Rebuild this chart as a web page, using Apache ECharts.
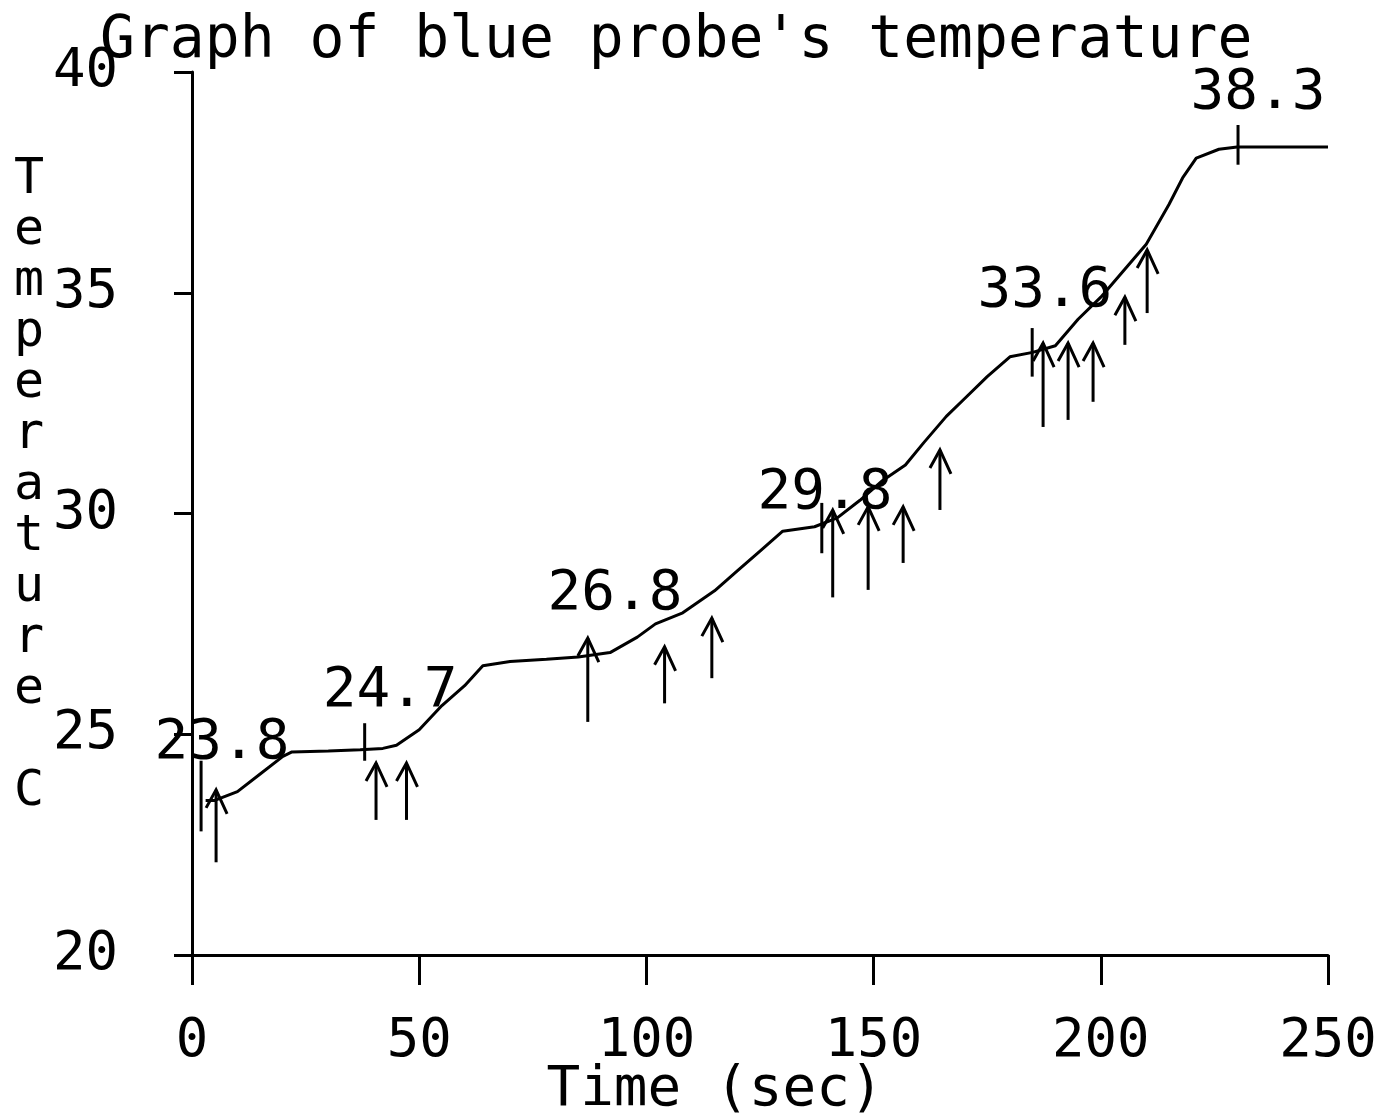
<!DOCTYPE html>
<html>
<head>
<meta charset="utf-8">
<script src="https://cdn.jsdelivr.net/npm/echarts@6/dist/echarts.min.js"></script>
<style>html,body{margin:0;padding:0;background:#fff}#chart{width:1387px;height:1115px}</style>
</head>
<body>
<div id="chart"></div>
<script>
// Curve: time (sec) and temperature (C)
const timeSec = [3, 5, 10, 15, 20, 22, 30, 37, 42, 45, 50, 55, 60, 64, 70, 78, 85, 92, 98, 102, 108, 115, 120, 125, 130, 137, 142, 147, 152, 157, 161, 166, 170, 175, 180, 185, 190, 195, 200, 205, 210, 215, 218, 221, 226, 230, 240, 250];
const tempC = [23.5, 23.5, 23.7, 24.1, 24.5, 24.6, 24.62, 24.65, 24.68, 24.75, 25.1, 25.65, 26.1, 26.55, 26.65, 26.7, 26.75, 26.85, 27.2, 27.5, 27.75, 28.25, 28.7, 29.15, 29.6, 29.7, 29.9, 30.3, 30.75, 31.1, 31.6, 32.2, 32.6, 33.1, 33.55, 33.65, 33.8, 34.4, 34.9, 35.5, 36.1, 37.0, 37.6, 38.05, 38.25, 38.3, 38.3, 38.3];

// Printed readings
const readingTimes = [6.6, 43.6, 93.1, 139.3, 187.7, 234.6];
const readingValues = [23.8, 24.7, 26.8, 29.8, 33.6, 38.3];

// Arrow markers (time, top temp, bottom temp)
const arrowTimes = [5.3, 40.5, 47.2, 87.1, 104, 114.4, 141, 148.8, 156.5, 164.6, 187.3, 192.8, 198.3, 205.3, 210.2];
const arrowTops = [23.74, 24.35, 24.35, 27.18, 26.98, 27.63, 30.08, 30.15, 30.15, 31.44, 33.86, 33.86, 33.86, 34.9, 35.97];
const arrowBottoms = [22.1, 23.06, 23.06, 25.28, 25.7, 26.27, 28.1, 28.27, 28.88, 30.08, 31.96, 32.12, 32.53, 33.82, 34.54];

// Plain vertical bar markers (time, top temp, bottom temp)
const barTimes = [2, 38, 138.6, 184.9, 230.2];
const barTops = [24.4, 25.25, 30.24, 34.2, 38.8];
const barBottoms = [22.8, 24.4, 29.1, 33.1, 37.9];

// Axis ticks
const xTicks = [0, 50, 100, 150, 200, 250];
const yTicks = [20, 25, 30, 35, 40];

const titleText = "Graph of blue probe's temperature";
const xName = 'Time (sec)';
const yName = 'Temperature C';

// ---- styling ----
const FONT = 'DejaVu Sans Mono';
const readingLabelNudge = [12, 0, -4, 27, -7, 2]; // vertical pixel nudges of printed readings

const chart = echarts.init(document.getElementById('chart'), null, {renderer: 'canvas'});

function markerRender(withHead) {
  return function (params, api) {
    const top = api.coord([api.value(0), api.value(1)]);
    const bot = api.coord([api.value(0), api.value(2)]);
    const children = [{
      type: 'line',
      shape: {x1: top[0], y1: top[1], x2: bot[0], y2: bot[1]},
      style: {stroke: '#000', lineWidth: 3}
    }];
    if (withHead) {
      children.push({
        type: 'polyline',
        shape: {points: [[top[0] - 10, top[1] + 18], [top[0], top[1]], [top[0] + 11, top[1] + 24]]},
        style: {stroke: '#000', lineWidth: 3, fill: null}
      });
    }
    return {type: 'group', children: children};
  };
}

const yNameStacked = (function () {
  const w = yName.split(' ');
  return w[0].split('').join('\n') + '\n\n' + w[1];
})();

chart.setOption({
  animation: false,
  backgroundColor: '#fff',
  title: {
    text: titleText,
    left: 95,
    top: 8,
    textStyle: {fontFamily: FONT, fontSize: 58, fontWeight: 'normal', color: '#000'}
  },
  grid: {left: 192, right: 59, top: 72, bottom: 160, containLabel: false, outerBoundsMode: 'none'},
  xAxis: {
    type: 'value',
    min: xTicks[0],
    max: xTicks[xTicks.length - 1],
    interval: xTicks[1] - xTicks[0],
    name: xName,
    nameLocation: 'middle',
    nameGap: 107,
    nameMoveOverlap: false,
    nameTextStyle: {fontFamily: FONT, fontSize: 56, color: '#000', padding: [0, 90, 0, 0], verticalAlign: 'top'},
    axisLine: {show: true, onZero: false, lineStyle: {color: '#000', width: 3}},
    axisTick: {show: true, inside: false, length: 30, lineStyle: {color: '#000', width: 3}},
    axisLabel: {fontFamily: FONT, fontSize: 54, color: '#000', margin: 60},
    splitLine: {show: false}
  },
  yAxis: {
    type: 'value',
    min: yTicks[0],
    max: yTicks[yTicks.length - 1],
    interval: yTicks[1] - yTicks[0],
    axisLine: {show: true, onZero: false, lineStyle: {color: '#000', width: 3}},
    axisTick: {show: true, inside: false, length: 18, lineStyle: {color: '#000', width: 3}},
    axisLabel: {fontFamily: FONT, fontSize: 54, color: '#000', margin: 74},
    splitLine: {show: false}
  },
  graphic: [{
    type: 'text',
    left: 14,
    top: 155,
    style: {
      text: yNameStacked,
      fontFamily: FONT,
      fontSize: 50,
      lineHeight: 51,
      fill: '#000',
      textAlign: 'left'
    }
  }],
  series: [
    {
      type: 'line',
      data: timeSec.map((t, i) => [t, tempC[i]]),
      showSymbol: false,
      lineStyle: {color: '#000', width: 3},
      z: 3
    },
    {
      type: 'custom',
      renderItem: markerRender(true),
      data: arrowTimes.map((t, i) => [t, arrowTops[i], arrowBottoms[i]]),
      z: 4
    },
    {
      type: 'custom',
      renderItem: markerRender(false),
      data: barTimes.map((t, i) => [t, barTops[i], barBottoms[i]]),
      z: 4
    },
    {
      type: 'scatter',
      data: readingTimes.map((t, i) => ({
        value: [t, readingValues[i]],
        label: {offset: [0, readingLabelNudge[i]]}
      })),
      symbolSize: 0,
      itemStyle: {opacity: 1, color: '#000'},
      label: {
        show: true,
        position: 'top',
        distance: 28,
        formatter: p => p.value[1].toFixed(1),
        fontFamily: FONT,
        fontSize: 56,
        color: '#000',
        opacity: 1
      },
      z: 5
    }
  ]
});
</script>
</body>
</html>
